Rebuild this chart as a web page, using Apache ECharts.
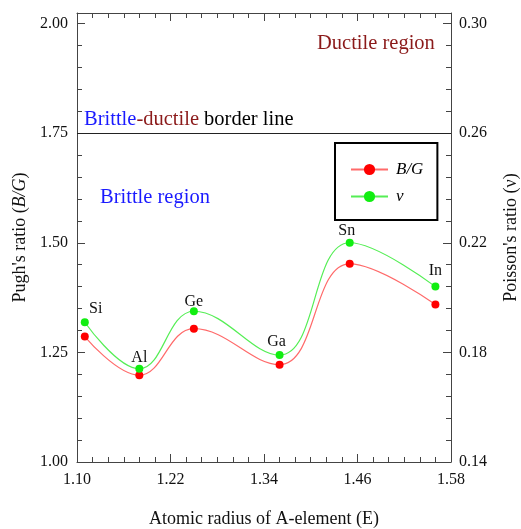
<!DOCTYPE html>
<html>
<head>
<meta charset="utf-8">
<script src="https://cdn.jsdelivr.net/npm/echarts@6/dist/echarts.min.js"></script>
<style>
html,body{margin:0;padding:0;background:#fff;}
#chart{width:521px;height:529px;}
</style>
</head>
<body>
<div id="chart"></div>
<script>
// ---- data ----
const elements = ['Si', 'Al', 'Ge', 'Ga', 'Sn', 'In'];
const atomicRadius = [1.11, 1.18, 1.25, 1.36, 1.45, 1.56];
const pughRatio = [1.286, 1.198, 1.304, 1.222, 1.452, 1.359];
const poissonRatio = [0.191, 0.174, 0.195, 0.179, 0.220, 0.204];
const borderLineValue = 1.75;

// ---- layout / style ----
const FONT = '"Liberation Serif", "Times New Roman", serif';
const AX = '#444';
const labelOffsets = [[11, 1], [0, 3], [0, 5], [-3, 1], [-3, 2], [0, -2]];

const chart = echarts.init(document.getElementById('chart'), null, {renderer: 'canvas'});

function fmt2(v) { return (Math.round(v * 100) / 100).toFixed(2); }
function onStep(v, min, step) {
  const k = (v - min) / step;
  return Math.abs(k - Math.round(k)) < 1e-6;
}

const xMin = 1.10, xMax = 1.58, xStep = 0.12;
const yMin = 1.00, yMax = 2.024, yStep = 0.25;
const rMin = 0.14, rMax = 0.14 + (yMax - 1) * 0.16, rStep = 0.04;

const option = {
  backgroundColor: '#fff',
  animation: false,
  grid: {left: 77, right: 70, top: 13, bottom: 67, containLabel: false, outerBoundsMode: 'none'},
  legend: {
    left: 335, top: 143, orient: 'vertical',
    padding: [18, 14, 15, 15],
    itemGap: 10, itemWidth: 37, itemHeight: 14,
    borderColor: '#000', borderWidth: 2,
    textStyle: {fontFamily: FONT, fontSize: 17, fontStyle: 'italic', color: '#000', padding: [0, 0, 0, 3]},
    data: ['B/G', 'ν']
  },
  xAxis: [
    {
      type: 'value', position: 'bottom', min: xMin, max: xMax, interval: xStep,
      name: 'Atomic radius of A-element (E)', nameLocation: 'middle', nameGap: 48,
      nameTextStyle: {fontFamily: FONT, fontSize: 18, color: '#111'},
      axisLine: {show: true, lineStyle: {color: AX, width: 1}},
      axisTick: {show: true, inside: true, length: 8, lineStyle: {color: AX}},
      minorTick: {show: true, splitNumber: 6, length: 5, lineStyle: {color: AX}},
      splitLine: {show: false}, minorSplitLine: {show: false},
      axisLabel: {fontFamily: FONT, fontSize: 16, color: '#111', margin: 10,
        formatter: v => onStep(v, xMin, xStep) ? fmt2(v) : ''}
    },
    {
      type: 'value', position: 'top', min: xMin, max: xMax, interval: xStep,
      axisLine: {show: true, lineStyle: {color: AX, width: 1}},
      axisTick: {show: true, inside: true, length: 8, lineStyle: {color: AX}},
      minorTick: {show: true, splitNumber: 6, length: 5, lineStyle: {color: AX}},
      splitLine: {show: false}, axisLabel: {show: false}
    }
  ],
  yAxis: [
    {
      type: 'value', position: 'left', min: yMin, max: yMax, interval: yStep,
      name: "Pugh's ratio ({i|B/G})", nameLocation: 'middle', nameGap: 47,
      nameTextStyle: {fontFamily: FONT, fontSize: 18, color: '#111',
        rich: {i: {fontFamily: FONT, fontSize: 18, fontStyle: 'italic', color: '#111'}}},
      axisLine: {show: true, lineStyle: {color: AX, width: 1}},
      axisTick: {show: true, inside: true, length: 8, lineStyle: {color: AX}},
      splitLine: {show: false},
      axisLabel: {fontFamily: FONT, fontSize: 16, color: '#111', margin: 9,
        formatter: v => onStep(v, yMin, yStep) ? fmt2(v) : ''}
    },
    {
      type: 'value', position: 'left', min: yMin, max: yMax, interval: 0.05,
      axisLine: {show: false},
      axisTick: {show: true, inside: true, length: 5, lineStyle: {color: AX}},
      splitLine: {show: false}, axisLabel: {show: false}
    },
    {
      type: 'value', position: 'right', min: rMin, max: rMax, interval: rStep,
      name: 'Poisson\'s ratio (ν)', nameLocation: 'middle', nameGap: 51,
      nameTextStyle: {fontFamily: FONT, fontSize: 18, color: '#111'},
      axisLine: {show: true, lineStyle: {color: AX, width: 1}},
      axisTick: {show: true, inside: true, length: 8, lineStyle: {color: AX}},
      splitLine: {show: false},
      axisLabel: {fontFamily: FONT, fontSize: 16, color: '#111', margin: 8,
        formatter: v => onStep(v, rMin, rStep) ? fmt2(v) : ''}
    },
    {
      type: 'value', position: 'right', min: rMin, max: rMax, interval: 0.008,
      axisLine: {show: false},
      axisTick: {show: true, inside: true, length: 5, lineStyle: {color: AX}},
      splitLine: {show: false}, axisLabel: {show: false}
    }
  ],
  series: [
    {
      name: 'B/G', type: 'line', xAxisIndex: 0, yAxisIndex: 0,
      smooth: 0.42,
      symbol: 'circle', symbolSize: 8,
      itemStyle: {color: '#ff0000'},
      lineStyle: {color: '#ff6a6a', width: 1.2},
      data: atomicRadius.map((x, i) => [x, pughRatio[i]]),
      markLine: {
        silent: true, symbol: 'none',
        label: {show: false},
        lineStyle: {color: '#222', width: 1, type: 'solid'},
        data: [{yAxis: borderLineValue}]
      },
      z: 3
    },
    {
      name: 'ν', type: 'line', xAxisIndex: 0, yAxisIndex: 2,
      smooth: 0.42,
      symbol: 'circle', symbolSize: 8,
      itemStyle: {color: '#11ee11'},
      lineStyle: {color: '#55ee55', width: 1.2},
      data: atomicRadius.map((x, i) => ({
        value: [x, poissonRatio[i]],
        label: {offset: labelOffsets[i]}
      })),
      label: {
        show: true, position: 'top', distance: 2,
        fontFamily: FONT, fontSize: 16, color: '#111',
        formatter: p => elements[p.dataIndex]
      },
      z: 4
    }
  ],
  graphic: [
    {
      type: 'text', left: 317, top: 33,
      style: {text: 'Ductile region', fontFamily: FONT, fontSize: 20.5, fill: '#8b1a1a'}
    },
    {
      type: 'text', left: 84, top: 109,
      style: {
        text: '{b|Brittle}{r|-ductile}{k| border line}',
        fontFamily: FONT, fontSize: 20.5,
        rich: {
          b: {fontFamily: FONT, fontSize: 20.5, fill: '#1a1aff', color: '#1a1aff'},
          r: {fontFamily: FONT, fontSize: 20.5, fill: '#8b1a1a', color: '#8b1a1a'},
          k: {fontFamily: FONT, fontSize: 20.5, fill: '#000', color: '#000'}
        }
      }
    },
    {
      type: 'text', left: 100, top: 187,
      style: {text: 'Brittle region', fontFamily: FONT, fontSize: 20.5, fill: '#1a1aff'}
    }
  ]
};

chart.setOption(option);
</script>
</body>
</html>
